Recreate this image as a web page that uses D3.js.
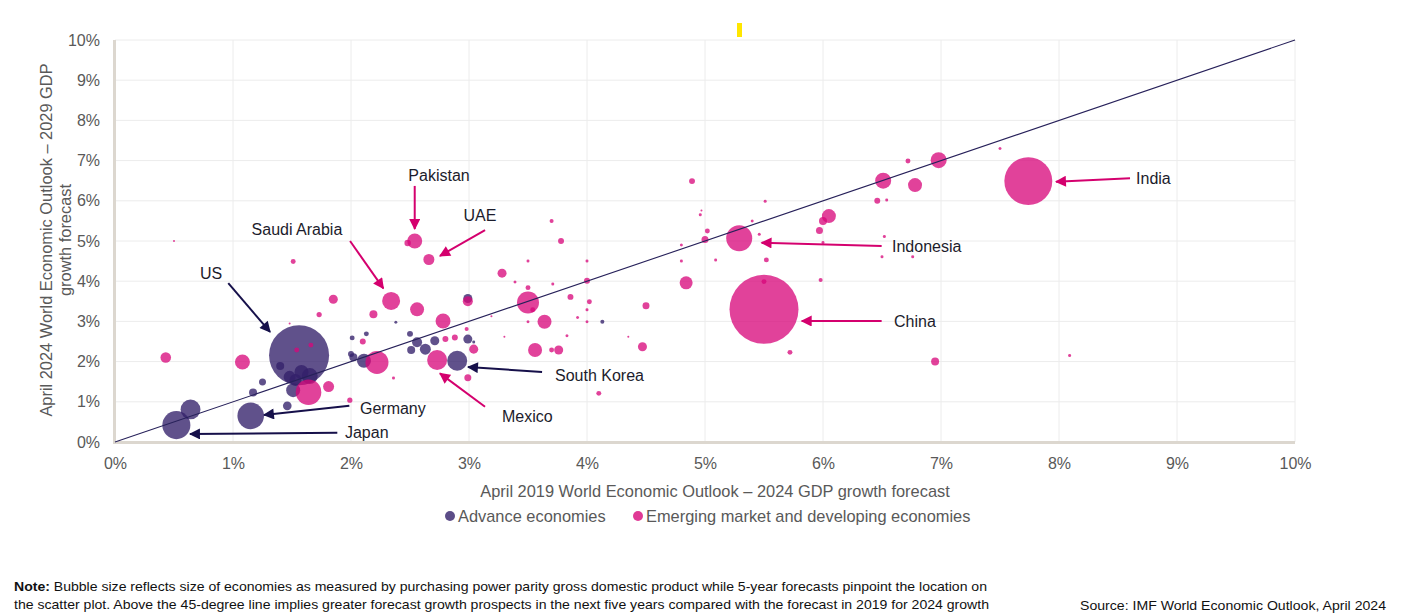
<!DOCTYPE html>
<html>
<head>
<meta charset="utf-8">
<script src="https://cdn.jsdelivr.net/npm/d3@7"></script>
<style>
  html, body { margin: 0; padding: 0; background: #ffffff; }
  svg { display: block; font-family: "Liberation Sans", Arial, Helvetica, sans-serif; }
</style>
</head>
<body>
<svg id="chart" width="1408" height="616"></svg>
<script>
// ---------------- DATA ----------------
const xTicks = [0, 1, 2, 3, 4, 5, 6, 7, 8, 9, 10];
const yTicks = [0, 1, 2, 3, 4, 5, 6, 7, 8, 9, 10];

// Advanced economies: 2019 forecast for 2024 (x), 2024 forecast for 2029 (y), PPP GDP size (tn)
const advX = [0.52, 0.64, 1.15, 1.17, 1.25, 1.46, 1.56, 1.40, 1.48, 1.58, 1.65, 1.51, 1.53, 2.01, 2.13, 2.00, 2.02, 2.11, 2.50, 2.56, 2.51, 2.63, 2.71, 2.90, 2.99, 2.99, 3.04, 2.38, 4.13];
const advY = [0.42, 0.81, 0.65, 1.23, 1.49, 0.90, 2.16, 1.89, 1.62, 1.74, 1.64, 1.29, 1.54, 2.59, 2.69, 2.19, 2.11, 2.02, 2.69, 2.48, 2.29, 2.31, 2.52, 2.02, 2.56, 3.57, 2.49, 2.98, 2.99];
const advSize = [5.8, 2.9, 5.2, 0.47, 0.36, 0.55, 26.5, 0.47, 1.06, 1.44, 1.88, 1.44, 1.06, 0.18, 0.18, 0.26, 0.47, 1.44, 0.26, 0.74, 0.47, 0.89, 0.6, 2.94, 0.6, 0.6, 0.066, 0.066, 0.12];

// Emerging market and developing economies
const emX = [5.50, 7.74, 5.29, 1.64, 2.73, 2.34, 2.54, 2.66, 1.81, 1.08, 0.43, 1.54, 1.66, 1.73, 1.85, 1.51, 1.99, 2.19, 2.56, 2.78, 2.99, 3.28, 3.39, 3.50, 3.50, 3.64, 2.10, 2.22, 2.80, 2.88, 3.04, 2.99, 2.36, 4.89, 3.70, 3.78, 3.50, 3.71, 3.86, 4.00, 4.00, 4.02, 4.00, 3.92, 4.00, 3.83, 3.70, 3.76, 3.56, 3.50, 3.54, 4.50, 4.47, 4.10, 4.84, 4.80, 5.00, 5.02, 4.96, 4.97, 5.09, 5.52, 5.46, 5.51, 5.40, 5.50, 5.72, 5.98, 6.05, 6.00, 5.97, 6.00, 6.46, 6.54, 6.51, 6.78, 6.72, 6.98, 6.52, 6.50, 6.76, 6.95, 7.50, 8.09, 4.80, 2.48, 0.50, 1.48, 3.19, 3.30, 4.35, 2.98];
const emY = [3.30, 6.49, 5.07, 1.24, 2.04, 3.51, 5.00, 4.54, 1.38, 1.99, 2.10, 2.29, 2.41, 3.17, 3.55, 4.49, 1.04, 3.18, 3.30, 3.01, 3.50, 4.20, 3.98, 3.84, 3.47, 2.99, 2.50, 1.98, 2.56, 2.60, 2.31, 1.60, 1.59, 6.49, 5.50, 5.00, 4.50, 3.93, 3.61, 4.50, 4.01, 3.49, 3.29, 3.10, 2.99, 2.64, 2.29, 2.29, 2.29, 2.99, 3.29, 3.39, 2.37, 1.21, 3.96, 4.50, 5.04, 5.25, 5.65, 5.76, 4.53, 4.53, 5.17, 5.99, 5.50, 3.99, 2.23, 4.03, 5.62, 5.50, 5.26, 4.96, 6.00, 6.02, 6.50, 6.39, 6.99, 7.01, 5.11, 4.61, 4.61, 2.00, 7.30, 2.15, 4.90, 4.95, 5.00, 2.95, 3.13, 2.62, 2.62, 2.81];
const emSize = [35, 16.9, 4.97, 4.8, 2.94, 2.38, 1.65, 0.89, 0.89, 1.65, 0.82, 0.18, 0.18, 0.2, 0.6, 0.18, 0.2, 0.47, 1.44, 1.65, 0.74, 0.6, 0.066, 0.18, 3.56, 1.44, 0.26, 3.89, 0.26, 0.26, 0.6, 0.36, 0.066, 0.26, 0.12, 0.26, 0.066, 0.066, 0.26, 0.066, 0.26, 0.18, 0.066, 0.066, 0.066, 0.066, 0.18, 0.6, 1.44, 0.066, 0.18, 0.36, 0.6, 0.18, 1.24, 0.066, 0.36, 0.18, 0.066, 0.03, 0.066, 0.18, 0.066, 0.066, 0.066, 0.18, 0.18, 0.12, 1.44, 0.47, 0.36, 0.066, 0.26, 0.066, 1.88, 1.44, 0.18, 1.88, 0.066, 0.066, 0.066, 0.47, 0.066, 0.066, 0.066, 0.3, 0.03, 0.03, 0.03, 0.03, 0.03, 0.12];

// Annotations (label text, group, label anchor, arrow start, arrow tip in data units)
const annText  = ["Pakistan", "UAE", "Saudi Arabia", "US", "South Korea", "Mexico", "Germany", "Japan", "India", "Indonesia", "China"];
const annGroup = ["em", "em", "em", "adv", "adv", "em", "adv", "adv", "em", "em", "em"];
const annAnchor = ["middle", "middle", "middle", "middle", "start", "start", "start", "start", "start", "start", "start"];
const annLabelX = [2.746, 3.093, 1.542, 0.814, 3.729, 3.280, 2.076, 1.949, 8.653, 6.585, 6.602];
const annLabelY = [6.64, 5.63, 5.30, 4.20, 1.667, 0.647, 0.846, 0.249, 6.567, 4.876, 3.01];
const annFromX = [2.54, 3.136, 1.992, 0.960, 3.619, 3.136, 1.986, 1.884, 8.602, 6.497, 6.497];
const annFromY = [6.37, 5.27, 5.00, 3.95, 1.741, 0.878, 0.903, 0.231, 6.56, 4.876, 3.01];
const annToX   = [2.54, 2.754, 2.274, 1.314, 2.992, 2.754, 1.263, 0.636, 7.975, 5.48, 5.82];
const annToY   = [5.30, 4.63, 3.82, 2.74, 1.866, 1.708, 0.672, 0.199, 6.475, 4.958, 3.01];

const legendLabels = ["Advance economies", "Emerging market and developing economies"];
const xTitle = "April 2019 World Economic Outlook \u2013 2024 GDP growth forecast";
const yTitle = ["April 2024 World Economic Outlook \u2013 2029 GDP", "growth forecast"];
const noteLines = ["Bubble size reflects size of economies as measured by purchasing power parity gross domestic product while 5-year forecasts pinpoint the location on",
                   "the scatter plot. Above the 45-degree line implies greater forecast growth prospects in the next five years compared with the forecast in 2019 for 2024 growth"];
const sourceText = "Source: IMF World Economic Outlook, April 2024";

// ---------------- STYLE ----------------
const COL = { adv: "#33206a", em: "#d8077a", advLine: "#16104a", emLine: "#d4006e", text: "#1c1c2c", axis: "#595959", grid: "#ececec", frame: "#dcd7cf", diag: "#27215a" };

const svg = d3.select("#chart");
const x = d3.scaleLinear().domain([0, 10]).range([115, 1295]);
const y = d3.scaleLinear().domain([0, 10]).range([442, 40]);
const r = d3.scaleSqrt().domain([0, 35]).range([0, 34.5]);

// decorative yellow marker at top
svg.append("rect").attr("x", 737).attr("y", 23).attr("width", 5).attr("height", 14).attr("fill", "#ffe600");

// gridlines
const grid = svg.append("g");
grid.selectAll("line.h").data(yTicks.filter(d => d > 0)).join("line")
  .attr("class", "h")
  .attr("x1", x(0)).attr("x2", x(10)).attr("y1", d => y(d)).attr("y2", d => y(d))
  .attr("stroke", COL.grid).attr("stroke-width", 1);
grid.selectAll("line.v").data(xTicks.filter(d => d > 0)).join("line")
  .attr("class", "v")
  .attr("y1", y(0)).attr("y2", y(10)).attr("x1", d => x(d)).attr("x2", d => x(d))
  .attr("stroke", COL.grid).attr("stroke-width", 1);

// frame (left & bottom)
svg.append("line").attr("x1", x(0) - 0.5).attr("x2", x(0) - 0.5).attr("y1", y(10)).attr("y2", y(0) + 1.5)
  .attr("stroke", COL.frame).attr("stroke-width", 3);
svg.append("line").attr("x1", x(0) - 2).attr("x2", x(10)).attr("y1", y(0) + 0.5).attr("y2", y(0) + 0.5)
  .attr("stroke", COL.frame).attr("stroke-width", 3);

// axes (labels only)
const fmt = d => d + "%";
const gx = svg.append("g").attr("transform", `translate(0,${y(0)})`)
  .call(d3.axisBottom(x).tickValues(xTicks).tickFormat(fmt).tickSize(0).tickPadding(16));
const gy = svg.append("g").attr("transform", `translate(${x(0)},0)`)
  .call(d3.axisLeft(y).tickValues(yTicks).tickFormat(fmt).tickSize(0).tickPadding(15));
[gx, gy].forEach(g => {
  g.select(".domain").remove();
  g.selectAll("text").attr("fill", COL.axis).style("font-size", "16px").style("font-family", '"Liberation Sans", Arial, sans-serif');
});

// bubbles
function bubbles(xs, ys, ss, color, op) {
  const data = xs.map((d, i) => ({ x: d, y: ys[i], s: ss[i] })).sort((a, b) => b.s - a.s);
  svg.append("g").selectAll("circle").data(data).join("circle")
    .attr("cx", d => x(d.x)).attr("cy", d => y(d.y)).attr("r", d => Math.max(1, r(d.s)))
    .attr("fill", color).attr("fill-opacity", op);
}
bubbles(advX, advY, advSize, COL.adv, 0.78);
bubbles(emX, emY, emSize, COL.em, 0.76);

// 45-degree line
svg.append("line").attr("x1", x(0)).attr("y1", y(0)).attr("x2", x(10)).attr("y2", y(10))
  .attr("stroke", COL.diag).attr("stroke-width", 1.1);

// arrow markers
const defs = svg.append("defs");
[["adv", COL.advLine], ["em", COL.emLine]].forEach(([k, c]) => {
  defs.append("marker").attr("id", "arr-" + k).attr("viewBox", "0 0 10 10")
    .attr("refX", 9).attr("refY", 5).attr("markerWidth", 6).attr("markerHeight", 5.5)
    .attr("markerUnits", "strokeWidth").attr("orient", "auto")
    .append("path").attr("d", "M0,0 L10,5 L0,10 Z").attr("fill", c);
});

// annotations
const ann = svg.append("g");
annText.forEach((t, i) => {
  const c = annGroup[i] === "adv" ? COL.advLine : COL.emLine;
  ann.append("line")
    .attr("x1", x(annFromX[i])).attr("y1", y(annFromY[i]))
    .attr("x2", x(annToX[i])).attr("y2", y(annToY[i]))
    .attr("stroke", c).attr("stroke-width", 2)
    .attr("marker-end", `url(#arr-${annGroup[i]})`);
  ann.append("text")
    .attr("x", x(annLabelX[i])).attr("y", y(annLabelY[i])).attr("dy", "0.35em")
    .attr("text-anchor", annAnchor[i])
    .attr("fill", COL.text).style("font-size", "16px").text(t);
});

// axis titles
svg.append("text").attr("x", 715).attr("y", 491).attr("dy", "0.35em").attr("text-anchor", "middle")
  .attr("fill", COL.axis).style("font-size", "16.4px").text(xTitle);
yTitle.forEach((t, i) => {
  svg.append("text").attr("transform", `translate(${46 + i * 19},240) rotate(-90)`)
    .attr("dy", "0.35em").attr("text-anchor", "middle")
    .attr("fill", COL.axis).style("font-size", "16.4px").text(t);
});

// legend
const leg = svg.append("g");
const legX = [450, 638];
const legCol = [COL.adv, COL.em];
legendLabels.forEach((t, i) => {
  leg.append("circle").attr("cx", legX[i]).attr("cy", 516).attr("r", 5).attr("fill", legCol[i]).attr("fill-opacity", 0.8);
  leg.append("text").attr("x", legX[i] + 8).attr("y", 516).attr("dy", "0.35em")
    .attr("fill", COL.axis).style("font-size", "16.4px").text(t);
});

// note
const note1 = svg.append("text").attr("x", 14).attr("y", 591).attr("fill", "#111")
  .style("font-size", "13px").attr("textLength", 973).attr("lengthAdjust", "spacingAndGlyphs");
note1.append("tspan").style("font-weight", "bold").text("Note: ");
note1.append("tspan").text(noteLines[0]);
svg.append("text").attr("x", 14).attr("y", 609).attr("fill", "#111")
  .style("font-size", "13px").attr("textLength", 975).attr("lengthAdjust", "spacingAndGlyphs")
  .text(noteLines[1]);
svg.append("text").attr("x", 1386).attr("y", 610).attr("fill", "#111").attr("text-anchor", "end")
  .style("font-size", "13px").attr("textLength", 306).attr("lengthAdjust", "spacingAndGlyphs")
  .text(sourceText);
</script>
</body>
</html>
